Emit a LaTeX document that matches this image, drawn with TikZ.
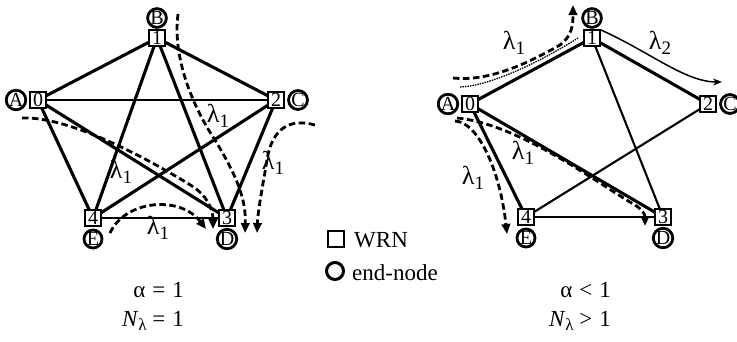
\documentclass[tikz,border=0pt]{standalone}
\usepackage{fontspec}
\setmainfont{Liberation Serif}
\usetikzlibrary{arrows.meta}
\pgfdeclarelayer{background}
\pgfsetlayers{background,main}

% lambda with a lowered index
\newcommand{\lamsub}[1]{λ\raisebox{-0.4ex}{\fontsize{19}{19}\selectfont #1}}

\tikzset{
  wrn/.style={draw, line width=2pt, fill=white, minimum width=16pt,
    minimum height=16pt, inner sep=0pt, font=\fontsize{20}{20}\selectfont},
  endnode/.style={circle, draw, line width=2.8pt, fill=white, minimum size=18pt,
    inner sep=0pt, font=\fontsize{20}{20}\selectfont},
  link/.style={line width=3.1pt},
  thinlink/.style={line width=2.1pt},
  flow/.style={line width=2.8pt, dash pattern=on 6.5pt off 3.5pt,
    -{Triangle[length=10pt,width=8.5pt]}},
  fineflow/.style={line width=1.3pt, dash pattern=on 1.5pt off 1pt},
  lightpath/.style={line width=1.5pt, -{Stealth[length=9pt,width=7pt]}},
  lam/.style={font=\fontsize{26}{26}\selectfont, inner sep=0pt},
  caption/.style={font=\fontsize{23}{23}\selectfont, inner sep=0pt},
}

\begin{document}
\begin{tikzpicture}[x=1pt, y=-1pt]
\useasboundingbox (0,0) rectangle (737,341);

% ---------------- left network: alpha = 1 ----------------
\node[endnode] (lA) at (16,100) {A};
\node[wrn] (l0) at (38,100) {0};
\node[endnode] (lB) at (157,18) {B};
\node[wrn] (l1) at (157,38) {1};
\node[wrn] (l2) at (276,100) {2};
\node[endnode] (lC) at (298,100) {C};
\node[endnode] (lD) at (227,239) {D};
\node[wrn] (l3) at (227,218) {3};
\node[endnode] (lE) at (93,239) {E};
\node[wrn] (l4) at (93,218) {4};

\begin{pgfonlayer}{background}
  \draw[link] (l0.center) -- (l1.center);
  \draw[link] (l1.center) -- (l2.center);
  \draw[link] (l2.center) -- (l3.center);
  \draw[thinlink] (l3.center) -- (l4.center);
  \draw[link] (l4.center) -- (l0.center);
  \draw[thinlink] (l0.center) -- (l2.center);
  \draw[link] (l0.center) -- (l3.center);
  \draw[link] (l1.center) -- (l3.center);
  \draw[link] (l1.center) -- (l4.center);
  \draw[link] (l2.center) -- (l4.center);
\end{pgfonlayer}

% wavelength flows
\coordinate (lf1s) at (178,14);
\coordinate (lf1e) at (245,233);
\draw[flow] (lf1s) .. controls (172,60) and (195,110) .. (215,140)
  .. controls (238,178) and (246,200) .. (lf1e);
\coordinate (lf2s) at (315,125);
\coordinate (lf2e) at (257,233);
\draw[flow] (lf2s) .. controls (290,118) and (272,128) .. (267,160)
  .. controls (262,190) and (258,210) .. (lf2e);
\coordinate (lf3s) at (22,118);
\coordinate (lf3e) at (213,229);
\draw[flow] (lf3s) .. controls (70,116) and (150,160) .. (192,186)
  .. controls (206,195) and (213,208) .. (lf3e);
\coordinate (lf4s) at (110,233);
\coordinate (lf4e) at (206,229);
\draw[flow] (lf4s) .. controls (125,200) and (180,195) .. (lf4e);

\node[lam] (ll1) at (218,116) {\lamsub{1}};
\node[lam] (ll2) at (273,163) {\lamsub{1}};
\node[lam] (ll3) at (121,172) {\lamsub{1}};
\node[lam] (ll4) at (158,228) {\lamsub{1}};

% ---------------- right network: alpha < 1 ----------------
\node[endnode] (rA) at (448,104) {A};
\node[wrn] (r0) at (470,104) {0};
\node[endnode] (rB) at (592,18) {B};
\node[wrn] (r1) at (592,38) {1};
\node[wrn] (r2) at (708,104) {2};
\node[endnode] (rC) at (730,104) {C};
\node[endnode] (rD) at (663,238) {D};
\node[wrn] (r3) at (663,217) {3};
\node[endnode] (rE) at (526,238) {E};
\node[wrn] (r4) at (526,217) {4};

\begin{pgfonlayer}{background}
  \draw[link] (r0.center) -- (r1.center);
  \draw[link] (r1.center) -- (r2.center);
  \draw[thinlink] (r1.center) -- (r3.center);
  \draw[link] (r0.center) -- (r4.center);
  \draw[link] (r0.center) -- (r3.center);
  \draw[thinlink] (r2.center) -- (r4.center);
  \draw[thinlink] (r4.center) -- (r3.center);
\end{pgfonlayer}

\coordinate (rf1s) at (453,78);
\coordinate (rf1e) at (573,5);
\draw[flow] (rf1s) .. controls (490,82) and (530,62) .. (560,45)
  .. controls (572,36) and (573,25) .. (rf1e);
\coordinate (rf2s) at (460,87);
\coordinate (rf2e) at (578,38);
\draw[fineflow] (rf2s) .. controls (490,86) and (540,62) .. (rf2e);
\coordinate (rf3s) at (601,30);
\coordinate (rf3e) at (722,82);
\draw[lightpath] (rf3s) .. controls (650,52) and (685,82) .. (rf3e);
\coordinate (rf4s) at (455,121);
\coordinate (rf4e) at (507,234);
\draw[flow] (rf4s) .. controls (478,122) and (500,170) .. (rf4e);
\coordinate (rf5s) at (457,118);
\coordinate (rf5e) at (645,226);
\draw[flow] (rf5s) .. controls (520,124) and (600,185) .. (635,205)
  .. controls (643,210) and (645,215) .. (rf5e);

\node[lam] (rl1) at (514,43) {\lamsub{1}};
\node[lam] (rl2) at (660,43) {\lamsub{2}};
\node[lam] (rl3) at (523,153) {\lamsub{1}};
\node[lam] (rl4) at (473,178) {\lamsub{1}};

% ---------------- legend ----------------
\node[wrn, minimum width=16pt, minimum height=16pt, line width=2.4pt] (keyW) at (336,239) {};
\node[caption, anchor=base west] (keyWt) at (354,247) {WRN};
\node[endnode, minimum size=17pt, line width=3pt] (keyE) at (335,271) {};
\node[caption, anchor=base west] (keyEt) at (352,280) {end-node};

% ---------------- captions ----------------
\node[caption, anchor=base east] (capLa) at (184,297) {α\hspace{0.3em}=\hspace{0.3em}1};
\node[caption, anchor=base east] (capLn) at (184,326)
  {\textit{N}\raisebox{-0.45ex}{\fontsize{17}{17}\selectfont λ}\hspace{0.25em}=\hspace{0.3em}1};
\node[caption, anchor=base east] (capRa) at (611,297) {α\hspace{0.3em}<\hspace{0.3em}1};
\node[caption, anchor=base east] (capRn) at (611,326)
  {\textit{N}\raisebox{-0.45ex}{\fontsize{17}{17}\selectfont λ}\hspace{0.25em}>\hspace{0.3em}1};
\end{tikzpicture}
\end{document}
